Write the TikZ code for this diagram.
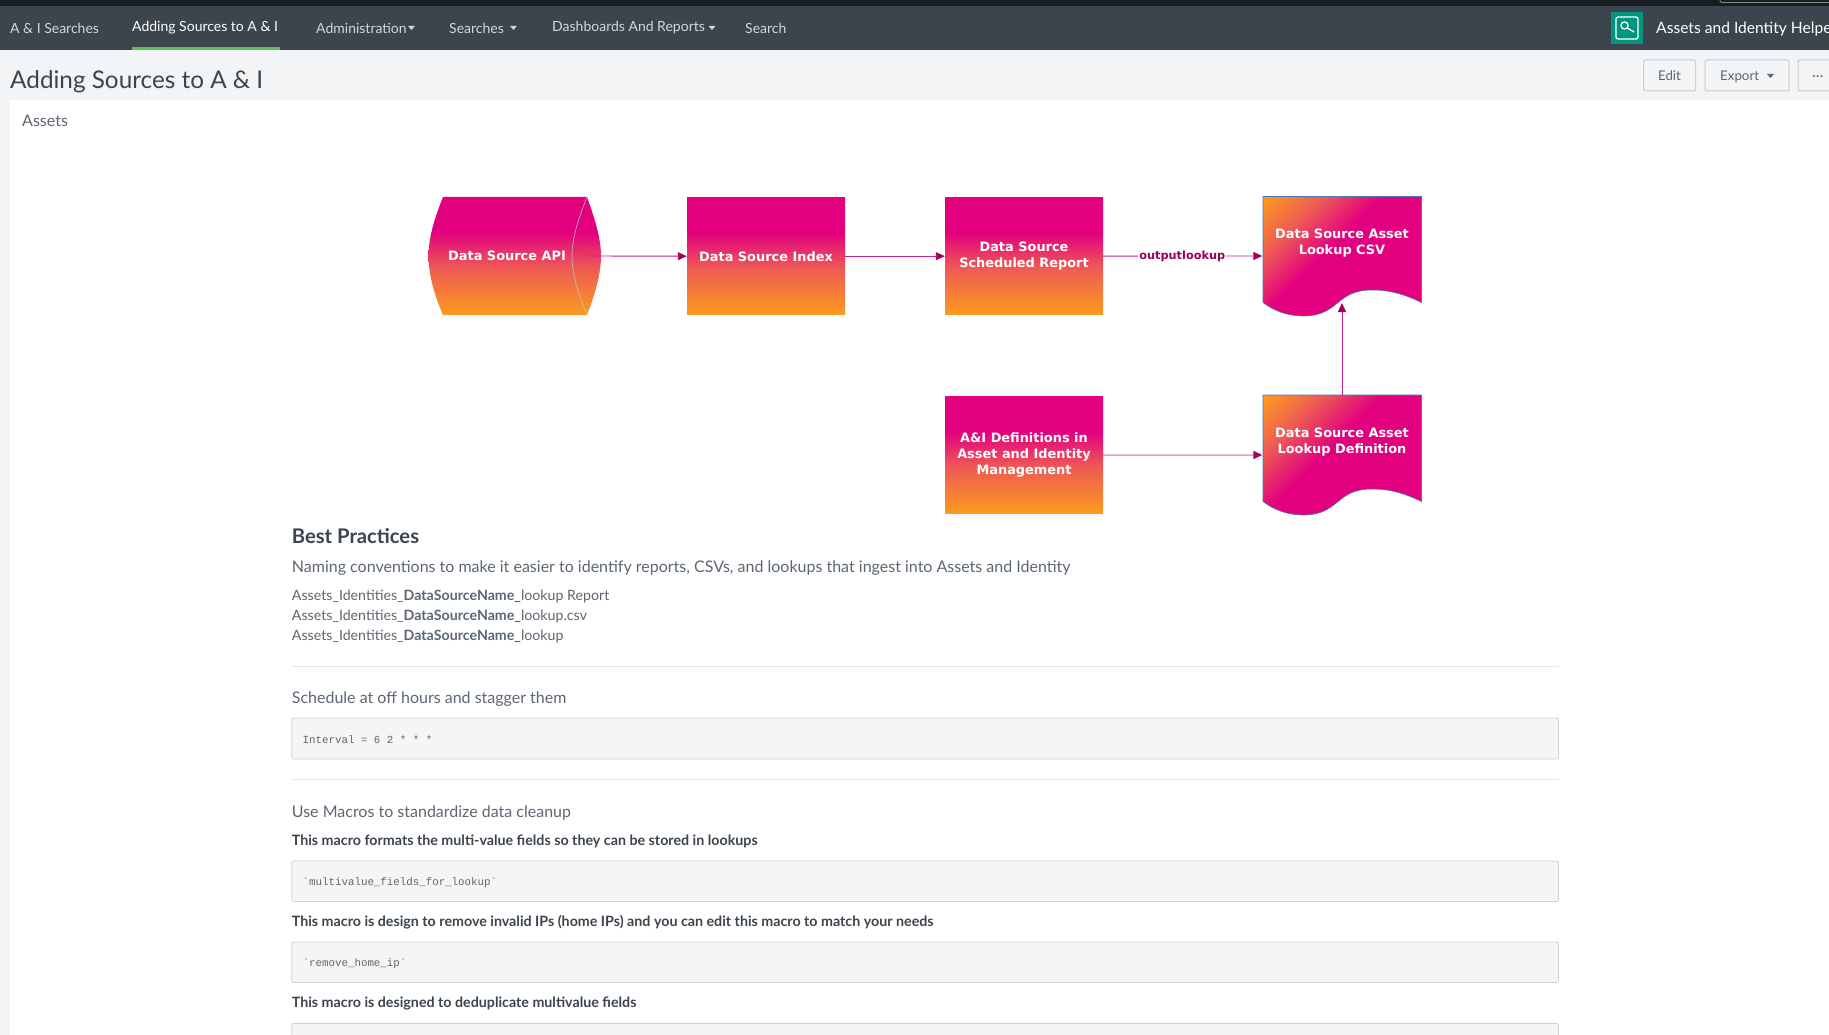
\documentclass[tikz,border=0pt]{standalone}
\usepackage{fontspec}
\setmainfont{Lato}
\setmonofont{Liberation Mono}
\newfontfamily\nodefont{DejaVu Sans}
\usetikzlibrary{calc,arrows.meta}
\definecolor{magcol}{HTML}{E2007F}
\definecolor{orgcol}{HTML}{FB9C1E}
\definecolor{midcol}{HTML}{EE5A55}
\definecolor{navbar}{HTML}{3C444D}
\definecolor{topbar}{HTML}{171D21}
\definecolor{pagebg}{HTML}{F2F4F5}
\definecolor{inktext}{HTML}{3C444D}
\definecolor{softtext}{HTML}{5C6773}
\definecolor{arrowtip}{HTML}{A50061}
\definecolor{arrowline}{HTML}{C2268A}
\definecolor{labelcol}{HTML}{99005A}
\definecolor{docedge}{HTML}{4A78B8}
\definecolor{tealicon}{HTML}{00957F}
\definecolor{tabgreen}{HTML}{5CC05C}
\pgfdeclareverticalshading{boxfade}{100bp}{color(0bp)=(orgcol); color(25bp)=(orgcol); color(45bp)=(midcol); color(60bp)=(magcol); color(100bp)=(magcol)}
\pgfdeclarehorizontalshading{docfade}{100bp}{color(0bp)=(orgcol); color(15bp)=(orgcol); color(30bp)=(midcol); color(45bp)=(magcol); color(100bp)=(magcol)}
\tikzset{
  x=1pt,y=-1pt,
  boxnode/.style={rectangle,inner sep=0pt,minimum width=158pt,minimum height=117.5pt,shading=boxfade,align=center,text=white,font=\nodefont\bfseries\fontsize{12.9}{16}\selectfont},
  framenode/.style={rectangle,inner sep=0pt,minimum width=159pt,minimum height=118pt},
  wordsnode/.style={inner sep=0pt,align=center,text=white,font=\nodefont\bfseries\fontsize{12.9}{16}\selectfont},
  link/.style={draw=arrowline,line width=.9pt},
  linktip/.style={-{Triangle[length=9pt,width=8pt,color=arrowtip]}},
  navlabel/.style={inner sep=0pt,anchor=west,text=white!78!navbar,font=\fontsize{14}{16}\selectfont},
  caret/.style={fill=white!78!navbar,draw=none},
  plainleft/.style={inner sep=0pt,anchor=west,text=softtext},
  boldleft/.style={inner sep=0pt,anchor=west,text=inktext,font=\bfseries\fontsize{14.25}{16}\selectfont},
  codetext/.style={inner sep=0pt,anchor=west,text=softtext,font=\ttfamily\fontsize{10.8}{13}\selectfont},
  codebox/.style={fill=black!4,draw=black!18,line width=.8pt,rounded corners=2pt},
  rulehr/.style={draw=black!9!white,line width=1pt},
  btn/.style={fill=pagebg,draw=black!20!white,line width=1pt,rounded corners=2pt,text=softtext,font=\fontsize{13.3}{16}\selectfont}
}
\begin{document}
\begin{tikzpicture}
\clip (0,0) rectangle (1829,1035);
\fill[pagebg] (0,0) rectangle (1829,1035);
\fill[white] (10,100) rectangle (1829,1035);
\fill[navbar] (0,6) rectangle (1829,50);
\fill[topbar] (0,0) rectangle (1829,6);
\draw[black!45!white,line width=.8pt,rounded corners=2pt] (1720,-8) rectangle (1840,2.5);
\fill[tabgreen] (132,47.3) rectangle (280,50);
% nav
\node[navlabel] (n1) at (10,28) {A \& I Searches};
\node[navlabel,text=white] (n2) at (132,28) {Adding Sources to A \& I};
\node[navlabel] (n3) at (316,28) {Administration};
\node[navlabel] (n4) at (449,28) {Searches};
\node[navlabel] (n5) at (552,28) {Dashboards And Reports};
\node[navlabel] (n6) at (745,28) {Search};
\fill[caret] (408,25.8) -- (415,25.8) -- (411.5,30) -- cycle;
\fill[caret] (510,25.8) -- (517,25.8) -- (513.5,30) -- cycle;
\fill[caret] (708.5,25.8) -- (715.5,25.8) -- (712,30) -- cycle;
% app icon
\fill[tealicon] (1611,12) rectangle (1643,44);
\draw[white,line width=1.3pt,rounded corners=2pt] (1616,17) rectangle (1638,39);
\draw[white,line width=1.2pt] (1624.5,25.5) circle (3.6);
\draw[white,line width=1.4pt] (1627.3,28) -- (1634,32);
\node[inner sep=0pt,anchor=west,text=white,font=\fontsize{15.6}{18}\selectfont] (app) at (1656,29) {Assets and Identity Helpe};
% buttons
\node[btn,minimum width=52pt,minimum height=31pt,inner sep=0pt] (edit) at (1669.5,75.5) {Edit};
\draw[btn] (1705,60) rectangle (1789,91);
\node[inner sep=0pt,anchor=west,text=softtext,font=\fontsize{13.3}{16}\selectfont] (export) at (1720,76.5) {Export};
\fill[softtext] (1767,74) -- (1774,74) -- (1770.5,78) -- cycle;
\draw[btn] (1798,60) rectangle (1860,91);
\node[inner sep=0pt,anchor=west,text=softtext,font=\fontsize{16}{16}\selectfont] (more) at (1812,77) {...};
% headings
\node[inner sep=0pt,anchor=west,text=inktext,font=\fontsize{24.3}{28}\selectfont] (title) at (10,81.5) {Adding Sources to A \& I};
\node[plainleft,font=\fontsize{16}{18}\selectfont] (assets) at (22,120.5) {Assets};
% diagram shapes
\shade[shading=boxfade] (443,197) .. controls (433,222) and (428.5,240) .. (428.5,256) .. controls (428.5,272) and (433,292) .. (443,315) -- (587,315) .. controls (596,292) and (601,272) .. (601,256) .. controls (601,240) and (596,222) .. (587,197) -- cycle;
\draw[white!75!black,line width=.6pt] (587,197) .. controls (577,222) and (572,240) .. (572,256) .. controls (572,272) and (577,292) .. (587,315);
\node[framenode] (api) at (507.5,256) {};
\node[wordsnode] (apitext) at (507,256) {Data Source API};
\node[boxnode] (index) at (766,256.2) {Data Source Index};
\node[boxnode] (sched) at (1024,256.2) {Data Source\\Scheduled Report};
\node[boxnode] (defs) at (1024,455.2) {A\&I Definitions in\\Asset and Identity\\Management};
\shade[shading=docfade,shading angle=-45] (1263,196.5) -- (1421.5,196.5) -- (1421.5,302.5) .. controls (1400,292) and (1385,290) .. (1372,290) .. controls (1335,290) and (1340,316) .. (1303,316) .. controls (1290,316) and (1275,312) .. (1263,302.5) -- cycle;
\draw[docedge,line width=.6pt] (1263,302.5) -- (1263,196.5) -- (1421.5,196.5) -- (1421.5,302.5) .. controls (1400,292) and (1385,290) .. (1372,290) .. controls (1335,290) and (1340,316) .. (1303,316) .. controls (1290,316) and (1275,312) .. (1263,302.5);
\node[framenode] (csv) at (1342,256) {};
\node[wordsnode] (csvtext) at (1342,243.5) {Data Source Asset\\Lookup CSV};
\coordinate (csvwave) at (1342,303);
\shade[shading=docfade,shading angle=-45] (1263,395) -- (1421.5,395) -- (1421.5,501.5) .. controls (1400,491) and (1385,489) .. (1372,489) .. controls (1335,489) and (1340,515) .. (1303,515) .. controls (1290,515) and (1275,511) .. (1263,501.5) -- cycle;
\draw[docedge,line width=.6pt] (1263,501.5) -- (1263,395) -- (1421.5,395) -- (1421.5,501.5) .. controls (1400,491) and (1385,489) .. (1372,489) .. controls (1335,489) and (1340,515) .. (1303,515) .. controls (1290,515) and (1275,511) .. (1263,501.5);
\node[framenode] (lookup) at (1342,455) {};
\node[wordsnode] (lookuptext) at (1342,442.5) {Data Source Asset\\Lookup Definition};
% connectors
\draw[link,linktip] (api.east) -- (index.west);
\draw[link,linktip] (index.east) -- (sched.west);
\draw[link,linktip] (sched.east) -- node[pos=.497,fill=white,inner sep=1pt,text=labelcol,font=\nodefont\bfseries\fontsize{11.3}{13}\selectfont] (outlabel) {outputlookup} (csv.west);
\draw[link,linktip,draw=arrowline!45!white,line width=1.5pt] (defs.east) -- (lookup.west);
\draw[link,linktip] (lookup.north) -- (csvwave);
% body
\node[inner sep=0pt,anchor=west,text=inktext,font=\bfseries\fontsize{20.2}{22}\selectfont] (best) at (291.7,536.5) {Best Practices};
\node[plainleft,font=\fontsize{16}{18}\selectfont] (naming) at (291.7,568) {Naming conventions to make it easier to identify reports, CSVs, and lookups that ingest into Assets and Identity};
\node[plainleft,font=\fontsize{14.2}{16}\selectfont] (l1) at (291.7,596) {Assets\_Identities\_\textbf{DataSourceName\_}lookup Report};
\node[plainleft,font=\fontsize{14.2}{16}\selectfont] (l2) at (291.7,616) {Assets\_Identities\_\textbf{DataSourceName\_}lookup.csv};
\node[plainleft,font=\fontsize{14.2}{16}\selectfont] (l3) at (291.7,636) {Assets\_Identities\_\textbf{DataSourceName\_}lookup};
\draw[rulehr] (291.7,666) -- (1558.5,666);
\node[plainleft,font=\fontsize{16}{18}\selectfont] (sched2) at (291.7,699) {Schedule at off hours and stagger them};
\draw[codebox] (291.7,718) rectangle (1558.5,759);
\node[codetext] (interval) at (302.5,739.5) {Interval = 6 2 * * *};
\draw[rulehr] (291.7,779) -- (1558.5,779);
\node[plainleft,font=\fontsize{16}{18}\selectfont] (macros) at (291.7,812.5) {Use Macros to standardize data cleanup};
\node[boldleft] (m1) at (291.7,841) {This macro formats the multi-value fields so they can be stored in lookups};
\draw[codebox] (291.7,861) rectangle (1558.5,901.5);
\node[codetext] (c1) at (302.5,882.5) {`multivalue\_fields\_for\_lookup`};
\node[boldleft] (m2) at (291.7,922) {This macro is design to remove invalid IPs (home IPs) and you can edit this macro to match your needs};
\draw[codebox] (291.7,942) rectangle (1558.5,982.5);
\node[codetext] (c2) at (302.5,963.5) {`remove\_home\_ip`};
\node[boldleft] (m3) at (291.7,1003) {This macro is designed to deduplicate multivalue fields};
\draw[codebox] (291.7,1023.5) rectangle (1558.5,1060);
\end{tikzpicture}
\end{document}
